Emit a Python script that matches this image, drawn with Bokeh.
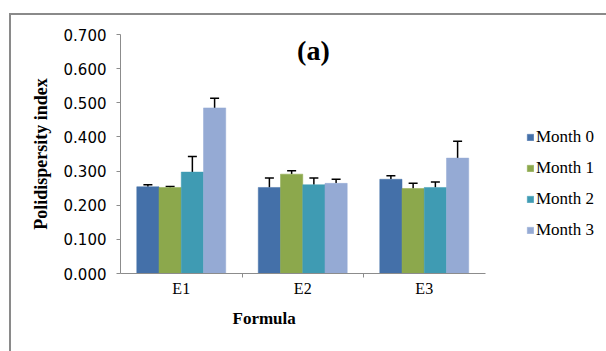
from bokeh.plotting import figure
from bokeh.models import (ColumnDataSource, FactorRange, Range1d, CategoricalAxis, LinearAxis,
                          FixedTicker, Whisker, Legend, LegendItem, Label, Title,
                          NumeralTickFormatter, InlineStyleSheet)
from bokeh.transform import dodge
from bokeh.embed import file_html
from bokeh.resources import INLINE

formulas = ["E1", "E2", "E3"]
months = ["Month 0", "Month 1", "Month 2", "Month 3"]
month0 = [0.254, 0.252, 0.276]
month1 = [0.252, 0.291, 0.249]
month2 = [0.297, 0.260, 0.252]
month3 = [0.485, 0.264, 0.338]
err0 = [0.006, 0.028, 0.010]
err1 = [0.003, 0.010, 0.015]
err2 = [0.046, 0.020, 0.016]
err3 = [0.028, 0.012, 0.049]
colors = ["#4470A9", "#8CA84C", "#3F9BB3", "#95AAD4"]

series = [month0, month1, month2, month3]
errs = [err0, err1, err2, err3]
offsets = [-0.2745, -0.0915, 0.0915, 0.2745]
bar_w = 0.183

SERIF = "Liberation Serif"

# an empty trailing factor leaves room on the right of the plot area for the legend
p = figure(width=606, height=351, x_range=FactorRange(*(formulas + [""]), range_padding=0),
           y_range=Range1d(0, 0.7), output_backend="svg", toolbar_location=None,
           x_axis_location=None, y_axis_location=None,
           min_border_left=120, min_border_right=0, min_border_top=34, min_border_bottom=78)
# factor range whose factor centres fall on the group boundaries
p.extra_x_ranges = {"edges": FactorRange("b0", "b1", "b2", "b3", "b4", range_padding=-0.2)}
p.grid.visible = False
p.outline_line_color = None
p.background_fill_color = "white"
p.border_fill_color = "white"
p.stylesheets = [InlineStyleSheet(css=(
    ":host::after{content:'';position:absolute;left:9px;top:13px;right:0;bottom:0;"
    "border-top:2px solid #8a8a8a;border-left:2px solid #8a8a8a;pointer-events:none;}"))]

ax_ticks = CategoricalAxis(x_range_name="edges", bounds=(0.5, 3.5))
ax_ticks.major_label_text_font_size = "0px"
ax_ticks.major_label_text_color = None
ax_ticks.major_label_standoff = 0
ax_ticks.axis_line_color = "#8C8C8C"
ax_ticks.major_tick_line_color = "#8C8C8C"
ax_ticks.major_tick_out = 4
ax_ticks.major_tick_in = 0
p.add_layout(ax_ticks, "below")

xax = CategoricalAxis()
xax.axis_line_color = None
xax.major_tick_line_color = None
xax.major_label_text_font = SERIF
xax.major_label_text_font_size = "16px"
xax.major_label_text_color = "black"
xax.major_label_standoff = -4
p.add_layout(xax, "below")

p.add_layout(Title(text="Formula", align="left", offset=112, standoff=15,
                   text_font=SERIF, text_font_style="bold", text_font_size="17px",
                   text_color="black"), "below")

yax = LinearAxis(ticker=FixedTicker(ticks=[0, 0.1, 0.2, 0.3, 0.4, 0.5, 0.6, 0.7]))
yax.formatter = NumeralTickFormatter(format="0.000")
yax.axis_line_color = "#8C8C8C"
yax.major_tick_line_color = "#8C8C8C"
yax.major_tick_out = 4
yax.major_tick_in = 0
yax.minor_tick_line_color = None
yax.major_label_text_font = "DejaVu Sans"
yax.major_label_text_font_size = "15px"
yax.major_label_text_color = "black"
yax.major_label_standoff = 10
yax.axis_label = "Polidispersity index"
yax.axis_label_text_font = SERIF
yax.axis_label_text_font_style = "bold"
yax.axis_label_text_font_size = "18px"
yax.axis_label_text_color = "black"
yax.axis_label_standoff = 10
p.add_layout(yax, "left")

items = []
for name, vals, ev, col, off in zip(months, series, errs, colors, offsets):
    src = ColumnDataSource(dict(x=formulas, top=vals,
                                up=[v + e for v, e in zip(vals, ev)]))
    r = p.vbar(x=dodge("x", off, range=p.x_range), top="top", width=bar_w, source=src,
               fill_color=col, line_color=col, line_width=0.5)
    w = Whisker(base=dodge("x", off, range=p.x_range), lower="top", upper="up", source=src,
                line_color="black", line_width=1.5, lower_head=None)
    w.upper_head.size = 9
    w.upper_head.line_color = "black"
    w.upper_head.line_width = 1.5
    p.add_layout(w)
    items.append(LegendItem(label=name, renderers=[r]))

legend = Legend(items=items, location=(406, 33), orientation="vertical",
                background_fill_alpha=0, border_line_color=None,
                label_text_font=SERIF, label_text_font_size="17px", label_text_color="black",
                glyph_width=8, glyph_height=8, label_height=20, spacing=11, padding=0, margin=0,
                label_standoff=2)
p.add_layout(legend, "center")

p.add_layout(Label(x=1.588, y=0.653, text="(a)", text_font=SERIF, text_font_style="bold",
                   text_font_size="28px", text_color="black",
                   text_align="center", text_baseline="middle"))

open("out.html", "w").write(file_html(p, INLINE))
